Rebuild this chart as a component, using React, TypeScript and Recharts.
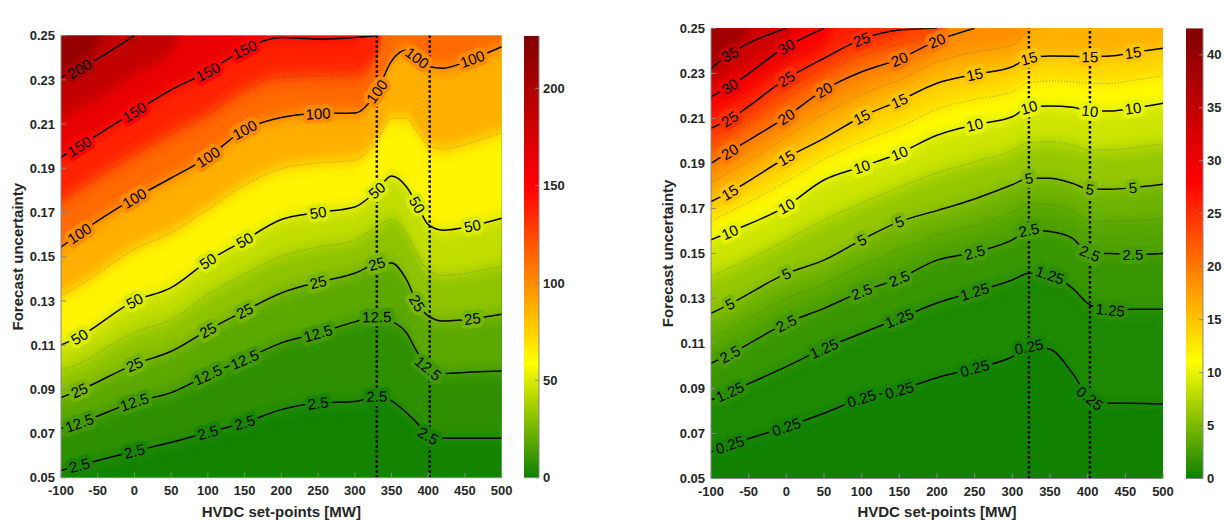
import React from 'react';
import {
  ComposedChart,
  Area,
  Line,
  XAxis,
  YAxis,
  ReferenceLine,
  CartesianGrid,
  Label,
} from 'recharts';

const X_TICKS = [-100, -50, 0, 50, 100, 150, 200, 250, 300, 350, 400, 450, 500];
const Y_TICKS = [0.05, 0.07, 0.09, 0.11, 0.13, 0.15, 0.17, 0.19, 0.21, 0.23, 0.25];

// Re-dispatched active generation [MW] -- contour heights (forecast uncertainty) per HVDC set-point
const GEN_X = [-100, -75, 0, 50, 100, 150, 200, 250, 300, 330, 350, 370, 385, 400, 420, 460, 500];
const GEN_2_5 = [0.0533, 0.0556, 0.062, 0.066, 0.0705, 0.075, 0.0808, 0.0838, 0.0845, 0.0868, 0.0848, 0.0795, 0.0747, 0.069, 0.0679, 0.0679, 0.0679];
const GEN_12_5 = [0.0724, 0.0748, 0.0843, 0.0885, 0.0965, 0.1035, 0.111, 0.1154, 0.1205, 0.1228, 0.1208, 0.1157, 0.1068, 0.0995, 0.0972, 0.0978, 0.0983];
const GEN_25 = [0.0863, 0.0895, 0.1013, 0.1072, 0.1168, 0.1255, 0.1336, 0.1385, 0.1425, 0.1468, 0.1472, 0.1398, 0.129, 0.1232, 0.1209, 0.122, 0.124];
const GEN_37_5 = [0.0982, 0.1018, 0.1157, 0.1216, 0.1329, 0.142, 0.1502, 0.1543, 0.1575, 0.1634, 0.1668, 0.1608, 0.1513, 0.1439, 0.1415, 0.143, 0.1457];
const GEN_50 = [0.11, 0.1138, 0.13, 0.136, 0.148, 0.1575, 0.1668, 0.17, 0.1725, 0.18, 0.1865, 0.1818, 0.1735, 0.1645, 0.162, 0.164, 0.1674];
const GEN_75 = [0.1322, 0.137, 0.1533, 0.1608, 0.1716, 0.1825, 0.1899, 0.1924, 0.1938, 0.2024, 0.2125, 0.2127, 0.2068, 0.2004, 0.1987, 0.2018, 0.2062];
const GEN_100 = [0.1543, 0.1605, 0.1765, 0.1856, 0.1951, 0.2075, 0.213, 0.2148, 0.215, 0.2248, 0.2385, 0.2435, 0.24, 0.2362, 0.2353, 0.2395, 0.245];
const GEN_125 = [0.1747, 0.1805, 0.196, 0.2056, 0.2143, 0.2252, 0.231, 0.2317, 0.2318, 0.2415, 0.25, 0.25, 0.25, 0.25, 0.25, 0.25, 0.25];
const GEN_150 = [0.195, 0.2, 0.2155, 0.2255, 0.2337, 0.2438, 0.2492, 0.2485, 0.2492, 0.25, 0.25, 0.25, 0.25, 0.25, 0.25, 0.25, 0.25];
const GEN_175 = [0.2132, 0.2175, 0.233, 0.2435, 0.25, 0.25, 0.25, 0.25, 0.25, 0.25, 0.25, 0.25, 0.25, 0.25, 0.25, 0.25, 0.25];
const GEN_200 = [0.2313, 0.235, 0.25, 0.25, 0.25, 0.25, 0.25, 0.25, 0.25, 0.25, 0.25, 0.25, 0.25, 0.25, 0.25, 0.25, 0.25];
const GEN_VMAX = 227;
const GEN_CB_TICKS = [0, 50, 100, 150, 200];
const GEN_SETPOINTS = [330, 402];

// Lost active load [MW]
const LOAD_X = [-100, -75, 0, 50, 100, 150, 200, 250, 300, 322, 350, 380, 403, 430, 460, 500];
const LOAD_0_25 = [0.0619, 0.065, 0.073, 0.079, 0.0856, 0.0893, 0.0948, 0.099, 0.1041, 0.1086, 0.1074, 0.0967, 0.0856, 0.0834, 0.0834, 0.0831];
const LOAD_1_25 = [0.0849, 0.0885, 0.0997, 0.1078, 0.1145, 0.1212, 0.128, 0.133, 0.1382, 0.1412, 0.1404, 0.1345, 0.1271, 0.1249, 0.1252, 0.1252];
const LOAD_2_5 = [0.1012, 0.1052, 0.119, 0.1256, 0.133, 0.1389, 0.147, 0.1505, 0.156, 0.1604, 0.1597, 0.1567, 0.15, 0.15, 0.1495, 0.15];
const LOAD_3_75 = [0.1123, 0.1165, 0.13, 0.1363, 0.1445, 0.1515, 0.158, 0.1623, 0.1683, 0.1719, 0.1716, 0.1689, 0.1643, 0.1643, 0.1644, 0.1654];
const LOAD_5 = [0.1234, 0.1275, 0.141, 0.147, 0.156, 0.1641, 0.169, 0.1742, 0.1805, 0.1834, 0.1834, 0.1811, 0.1785, 0.1785, 0.1792, 0.1807];
const LOAD_7_5 = [0.1397, 0.1435, 0.156, 0.1648, 0.1723, 0.1793, 0.1858, 0.1907, 0.1956, 0.1992, 0.1995, 0.198, 0.1959, 0.1959, 0.1969, 0.1987];
const LOAD_10 = [0.156, 0.1595, 0.171, 0.1826, 0.1885, 0.1945, 0.2025, 0.2072, 0.2107, 0.2149, 0.2155, 0.2149, 0.2133, 0.2133, 0.2145, 0.2167];
const LOAD_12_5 = [0.1645, 0.1685, 0.1818, 0.1919, 0.1996, 0.2062, 0.214, 0.2184, 0.2218, 0.2258, 0.2266, 0.2263, 0.2254, 0.2255, 0.2269, 0.2289];
const LOAD_15 = [0.173, 0.1772, 0.1925, 0.2011, 0.2107, 0.2178, 0.2256, 0.2295, 0.2329, 0.2367, 0.2377, 0.2376, 0.2374, 0.2377, 0.2392, 0.2411];
const LOAD_17_5 = [0.1815, 0.186, 0.2016, 0.2119, 0.2207, 0.2271, 0.235, 0.2395, 0.2425, 0.249, 0.25, 0.25, 0.25, 0.25, 0.25, 0.25];
const LOAD_20 = [0.19, 0.1952, 0.2107, 0.2226, 0.2307, 0.2363, 0.2445, 0.25, 0.25, 0.25, 0.25, 0.25, 0.25, 0.25, 0.25, 0.25];
const LOAD_22_5 = [0.1978, 0.2025, 0.219, 0.2297, 0.238, 0.2428, 0.2475, 0.25, 0.25, 0.25, 0.25, 0.25, 0.25, 0.25, 0.25, 0.25];
const LOAD_25 = [0.2056, 0.2098, 0.2275, 0.2367, 0.2451, 0.2492, 0.25, 0.25, 0.25, 0.25, 0.25, 0.25, 0.25, 0.25, 0.25, 0.25];
const LOAD_27_5 = [0.2126, 0.217, 0.2345, 0.2435, 0.25, 0.25, 0.25, 0.25, 0.25, 0.25, 0.25, 0.25, 0.25, 0.25, 0.25, 0.25];
const LOAD_30 = [0.2196, 0.2242, 0.2418, 0.25, 0.25, 0.25, 0.25, 0.25, 0.25, 0.25, 0.25, 0.25, 0.25, 0.25, 0.25, 0.25];
const LOAD_32_5 = [0.2259, 0.231, 0.2475, 0.25, 0.25, 0.25, 0.25, 0.25, 0.25, 0.25, 0.25, 0.25, 0.25, 0.25, 0.25, 0.25];
const LOAD_35 = [0.2322, 0.2385, 0.25, 0.25, 0.25, 0.25, 0.25, 0.25, 0.25, 0.25, 0.25, 0.25, 0.25, 0.25, 0.25, 0.25];
const LOAD_VMAX = 42.5;
const LOAD_CB_TICKS = [0, 5, 10, 15, 20, 25, 30, 35, 40];
const LOAD_SETPOINTS = [322, 403];

// green -> yellow -> red -> dark red
const RGB_STOPS: [number, number[]][] = [
  [0, [14, 128, 0]],
  [0.26, [255, 255, 0]],
  [0.66, [255, 0, 0]],
  [1, [128, 0, 0]],
];

type Level = { v: number; y: number[]; major: boolean; labels: number[] };

const GEN_LEVELS: Level[] = [
  { v: 2.5, y: GEN_2_5, major: true, labels: [-75, 0, 100, 150, 250, 330, 400] },
  { v: 12.5, y: GEN_12_5, major: true, labels: [-75, 0, 100, 150, 250, 330, 400] },
  { v: 25, y: GEN_25, major: true, labels: [-75, 0, 100, 150, 250, 330, 385, 460] },
  { v: 37.5, y: GEN_37_5, major: false, labels: [] },
  { v: 50, y: GEN_50, major: true, labels: [-75, 0, 100, 150, 250, 330, 385, 460] },
  { v: 75, y: GEN_75, major: false, labels: [] },
  { v: 100, y: GEN_100, major: true, labels: [-75, 0, 100, 150, 250, 330, 385, 460] },
  { v: 125, y: GEN_125, major: false, labels: [] },
  { v: 150, y: GEN_150, major: true, labels: [-75, 0, 100, 150] },
  { v: 175, y: GEN_175, major: false, labels: [] },
  { v: 200, y: GEN_200, major: true, labels: [-75] },
];

const LOAD_LEVELS: Level[] = [
  { v: 0.25, y: LOAD_0_25, major: true, labels: [-75, 0, 100, 150, 250, 322, 403] },
  { v: 1.25, y: LOAD_1_25, major: true, labels: [-75, 50, 150, 250, 350, 430] },
  { v: 2.5, y: LOAD_2_5, major: true, labels: [-75, 0, 100, 150, 250, 322, 403, 460] },
  { v: 3.75, y: LOAD_3_75, major: false, labels: [] },
  { v: 5, y: LOAD_5, major: true, labels: [-75, 0, 100, 150, 322, 403, 460] },
  { v: 7.5, y: LOAD_7_5, major: false, labels: [] },
  { v: 10, y: LOAD_10, major: true, labels: [-75, 0, 100, 150, 250, 322, 403, 460] },
  { v: 12.5, y: LOAD_12_5, major: false, labels: [] },
  { v: 15, y: LOAD_15, major: true, labels: [-75, 0, 100, 150, 250, 322, 403, 460] },
  { v: 17.5, y: LOAD_17_5, major: false, labels: [] },
  { v: 20, y: LOAD_20, major: true, labels: [-75, 0, 50, 150, 200] },
  { v: 22.5, y: LOAD_22_5, major: false, labels: [] },
  { v: 25, y: LOAD_25, major: true, labels: [-75, 0, 100] },
  { v: 27.5, y: LOAD_27_5, major: false, labels: [] },
  { v: 30, y: LOAD_30, major: true, labels: [-75, 0] },
  { v: 32.5, y: LOAD_32_5, major: false, labels: [] },
  { v: 35, y: LOAD_35, major: true, labels: [-75] },
];

const FONT = '"Liberation Sans", Arial, Helvetica, sans-serif';
const TOP = 0.25;
const AREA_TOP = 0.27; // contour above the frame: push the fill out so the clip hides it
const H = 523;
const Y_AXIS_W = 61;

function cmap(t: number): string {
  const u = Math.max(0, Math.min(1, t));
  for (let i = 1; i < RGB_STOPS.length; i++) {
    const [t0, c0] = RGB_STOPS[i - 1];
    const [t1, c1] = RGB_STOPS[i];
    if (u <= t1) {
      const f = (u - t0) / (t1 - t0);
      const c = c0.map((v, k) => Math.round(v + (c1[k] - v) * f));
      return `rgb(${c.join(',')})`;
    }
  }
  return 'rgb(128,0,0)';
}

const areaData = (xs: number[], ys: number[]) =>
  xs.map((x, i) => ({ x, y: ys[i] >= TOP ? AREA_TOP : ys[i] }));

const lineData = (xs: number[], ys: number[]) =>
  xs.map((x, i) => ({ x, y: ys[i] >= TOP && i > 0 && ys[i - 1] >= TOP ? null : ys[i] }));

function contourLabel(lv: Level, xs: number[], kx: number, ky: number, halo: string) {
  return (props: any) => {
    const i: number = props.index ?? xs.indexOf(props.payload?.x);
    const x = props.x ?? props.viewBox?.x;
    const y = props.y ?? props.viewBox?.y;
    if (i == null || i < 0 || x == null || y == null) return null;
    if (!lv.labels.includes(xs[i]) || lv.y[i] >= TOP) return null;
    const a = Math.max(0, i - 1);
    const b = Math.min(xs.length - 1, i + 1);
    const dx = (xs[b] - xs[a]) * kx;
    const dy = -(Math.min(lv.y[b], TOP) - Math.min(lv.y[a], TOP)) * ky;
    const ang = (Math.atan2(dy, dx) * 180) / Math.PI;
    return (
      <text
        key={`lab-${lv.v}-${i}`}
        x={x}
        y={y}
        transform={`rotate(${ang.toFixed(1)} ${x} ${y})`}
        textAnchor="middle"
        dominantBaseline="central"
        fontSize={15}
        fontFamily={FONT}
        fill="#000"
        stroke={halo}
        strokeWidth={8}
        strokeLinejoin="round"
        paintOrder="stroke"
      >
        {String(lv.v)}
      </text>
    );
  };
}

type PanelProps = {
  id: string;
  title: string;
  xs: number[];
  levels: Level[];
  vmax: number;
  setpoints: number[];
  left: number;
  width: number;
  plotTop: number;
  plotRight: number;
  plotBottom: number;
  titleY: number;
};

const tickStyle = { fill: '#262626', fontSize: 13, fontWeight: 700, fontFamily: FONT };

function ContourPanel(p: PanelProps) {
  const plotLeft = p.left + Y_AXIS_W;
  const plotW = p.plotRight - plotLeft;
  const plotH = p.plotBottom - p.plotTop;
  const kx = plotW / 600;
  const ky = plotH / 0.2;
  const cx = Y_AXIS_W + plotW / 2;
  const cy = p.plotTop + plotH / 2;
  const blurId = `${p.id}-blur`;
  const n = p.levels.length;

  return (
    <div style={{ position: 'absolute', left: p.left, top: 0 }}>
      <ComposedChart
        width={p.width}
        height={H}
        margin={{ top: p.plotTop, right: p.width - (p.plotRight - p.left), bottom: 0, left: 0 }}
      >
        <defs>
          <filter id={blurId} filterUnits="userSpaceOnUse" x={-50} y={-300} width={p.width + 100} height={H + 600}>
            <feGaussianBlur stdDeviation="0 8" />
          </filter>
        </defs>
        <CartesianGrid horizontal={false} vertical={false} fill={cmap(p.levels[0].v / 2 / p.vmax)} fillOpacity={1} />
        <XAxis
          type="number"
          dataKey="x"
          domain={[-100, 500]}
          ticks={X_TICKS}
          interval={0}
          allowDataOverflow
          height={H - p.plotBottom}
          tick={tickStyle}
          tickSize={-5}
          tickMargin={13}
          stroke="#888"
        >
          <Label
            content={() => (
              <text x={cx} y={511.7} textAnchor="middle" dominantBaseline="central" fontSize={15} fontWeight={700} fontFamily={FONT} fill="#262626">
                HVDC set-points [MW]
              </text>
            )}
          />
        </XAxis>
        <XAxis
          xAxisId="top"
          orientation="top"
          type="number"
          domain={[-100, 500]}
          ticks={X_TICKS}
          interval={0}
          height={0}
          tick={false}
          tickSize={-5}
          stroke="#888"
        >
          <Label
            content={() => (
              <text x={cx} y={p.titleY} textAnchor="middle" dominantBaseline="central" fontSize={16} fontWeight={700} fontFamily={FONT} fill="#000">
                {p.title}
              </text>
            )}
          />
        </XAxis>
        <YAxis
          type="number"
          domain={[0.05, 0.25]}
          ticks={Y_TICKS}
          interval={0}
          allowDataOverflow
          width={Y_AXIS_W}
          tick={tickStyle}
          tickSize={-5}
          tickMargin={11}
          tickFormatter={(v: number) => v.toFixed(2)}
          stroke="#888"
        >
          <Label
            content={() => (
              <text x={18} y={cy} transform={`rotate(-90 18 ${cy})`} textAnchor="middle" dominantBaseline="central" fontSize={15} fontWeight={700} fontFamily={FONT} fill="#262626">
                Forecast uncertainty
              </text>
            )}
          />
        </YAxis>
        <YAxis
          yAxisId="right"
          orientation="right"
          type="number"
          domain={[0.05, 0.25]}
          ticks={Y_TICKS}
          interval={0}
          width={0}
          tick={false}
          tickSize={-5}
          stroke="#888"
        />

        {p.levels.map((lv, i) => {
          const mid = i < n - 1 ? (lv.v + p.levels[i + 1].v) / 2 : (lv.v + p.vmax) / 2;
          return (
            <Area
              key={`a-${lv.v}`}
              data={areaData(p.xs, lv.y)}
              dataKey="y"
              type="monotone"
              baseValue={0.32}
              fill={cmap(mid / p.vmax)}
              fillOpacity={1}
              stroke="none"
              filter={`url(#${blurId})`}
              dot={false}
              activeDot={false}
              isAnimationActive={false}
            />
          );
        })}

        {p.levels
          .filter((lv) => !lv.major)
          .map((lv) => (
            <Line
              key={`m-${lv.v}`}
              data={lineData(p.xs, lv.y)}
              dataKey="y"
              type="monotone"
              stroke="#3c3c3c"
              strokeOpacity={0.55}
              strokeWidth={0.8}
              strokeDasharray="1 2"
              dot={false}
              activeDot={false}
              isAnimationActive={false}
            />
          ))}

        {p.levels
          .filter((lv) => lv.major)
          .map((lv) => (
            <Line
              key={`c-${lv.v}`}
              data={lineData(p.xs, lv.y)}
              dataKey="y"
              type="monotone"
              stroke="#000"
              strokeWidth={1.5}
              dot={false}
              activeDot={false}
              label={contourLabel(lv, p.xs, kx, ky, cmap(lv.v / p.vmax))}
              isAnimationActive={false}
            />
          ))}

        {p.setpoints.map((sp) => (
          <ReferenceLine key={`sp-${sp}`} x={sp} stroke="#000" strokeWidth={2.5} strokeDasharray="2.5 2.5" />
        ))}
      </ComposedChart>
    </div>
  );
}

type BarProps = {
  id: string;
  left: number;
  plotTop: number;
  plotBottom: number;
  barWidth: number;
  axisWidth: number;
  vmax: number;
  ticks: number[];
};

function ColorBar(p: BarProps) {
  // one flat-topped area spanning the bar, painted with the colour map
  const span = [
    { x: 0, y: p.vmax },
    { x: 1, y: p.vmax },
  ];
  return (
    <div style={{ position: 'absolute', left: p.left, top: 0 }}>
      <ComposedChart
        width={p.barWidth + p.axisWidth}
        height={H}
        margin={{ top: p.plotTop, right: 0, left: 0, bottom: 0 }}
      >
        <defs>
          <linearGradient id={p.id} x1="0" y1="1" x2="0" y2="0">
            {RGB_STOPS.map(([t, c]) => (
              <stop key={t} offset={t} stopColor={`rgb(${c.join(',')})`} />
            ))}
          </linearGradient>
        </defs>
        <XAxis type="number" dataKey="x" domain={[0, 1]} height={H - p.plotBottom} tick={false} tickLine={false} stroke="#888" />
        <XAxis xAxisId="top" orientation="top" type="number" domain={[0, 1]} height={0} tick={false} tickLine={false} stroke="#888" />
        <YAxis yAxisId="left" orientation="left" type="number" domain={[0, p.vmax]} width={0} tick={false} tickLine={false} stroke="#888" />
        <YAxis
          type="number"
          orientation="right"
          domain={[0, p.vmax]}
          ticks={p.ticks}
          interval={0}
          width={p.axisWidth}
          tick={tickStyle}
          tickSize={-4}
          tickMargin={8}
          stroke="#888"
          allowDataOverflow
        />
        <Area
          data={span}
          dataKey="y"
          type="linear"
          baseValue={0}
          fill={`url(#${p.id})`}
          fillOpacity={1}
          stroke="none"
          dot={false}
          activeDot={false}
          isAnimationActive={false}
        />
      </ComposedChart>
    </div>
  );
}

export default function App() {
  return (
    <div style={{ position: 'relative', width: 1224, height: H, overflow: 'hidden', background: '#fff', fontFamily: FONT }}>
      <style>{'body{margin:0}'}</style>
      <ContourPanel
        id="gen"
        title="Re-dispatched active generation [MW]"
        xs={GEN_X}
        levels={GEN_LEVELS}
        vmax={GEN_VMAX}
        setpoints={GEN_SETPOINTS}
        left={0}
        width={520}
        plotTop={35.7}
        plotRight={501.7}
        plotBottom={477.7}
        titleY={20.7}
      />
      <ColorBar id="gen-cb" left={524} plotTop={35.7} plotBottom={477.7} barWidth={15} axisWidth={36} vmax={GEN_VMAX} ticks={GEN_CB_TICKS} />
      <ContourPanel
        id="load"
        title="Lost active load [MW]"
        xs={LOAD_X}
        levels={LOAD_LEVELS}
        vmax={LOAD_VMAX}
        setpoints={LOAD_SETPOINTS}
        left={650}
        width={530}
        plotTop={28.3}
        plotRight={1163}
        plotBottom={478.5}
        titleY={14}
      />
      <ColorBar id="load-cb" left={1186} plotTop={28.3} plotBottom={478.5} barWidth={17} axisWidth={38} vmax={LOAD_VMAX} ticks={LOAD_CB_TICKS} />
    </div>
  );
}
